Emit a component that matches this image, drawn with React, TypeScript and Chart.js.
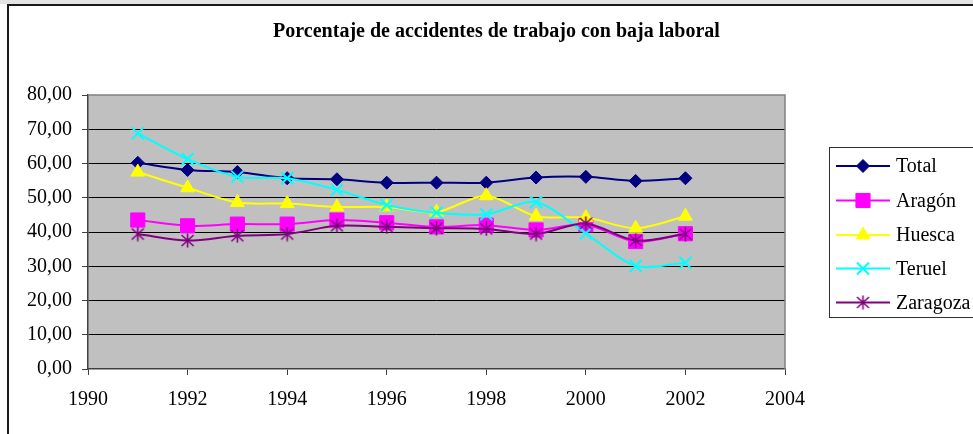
import React, { useEffect, useRef } from 'react';
import { Chart, registerables } from 'chart.js';
import { drawPoint } from 'chart.js/helpers';

Chart.register(...registerables);

const titleText = 'Porcentaje de accidentes de trabajo con baja laboral';
const years = [1991, 1992, 1993, 1994, 1995, 1996, 1997, 1998, 1999, 2000, 2001, 2002];
const total = [60.2, 58.1, 57.5, 55.7, 55.4, 54.4, 54.4, 54.4, 55.9, 56.1, 54.9, 55.7];
const aragon = [43.5, 41.8, 42.3, 42.3, 43.5, 42.7, 41.5, 42.0, 40.6, 42.1, 37.2, 39.5];
const huesca = [57.5, 52.9, 48.6, 48.3, 47.3, 47.3, 45.8, 50.6, 44.6, 44.2, 41.1, 44.6];
const teruel = [68.8, 61.3, 56.1, 55.7, 52.3, 47.9, 45.6, 45.2, 48.7, 39.6, 30.1, 31.0];
const zaragoza = [39.4, 37.5, 38.9, 39.4, 41.8, 41.5, 41.1, 40.9, 39.4, 42.5, 37.5, 39.4];
const seriesNames = ['Total', 'Aragón', 'Huesca', 'Teruel', 'Zaragoza'];
const seriesColors = ['#000080', '#FF00FF', '#FFFF00', '#00FFFF', '#800080'];
const xMin = 1990;
const xMax = 2004;
const xStep = 2;
const yMin = 0;
const yMax = 80;
const yStep = 10;

const FONT = '"Liberation Serif", "Times New Roman", serif';

function makeAsterisk(color: string): HTMLCanvasElement {
  const c = document.createElement('canvas');
  c.width = 15;
  c.height = 15;
  const g = c.getContext('2d')!;
  g.strokeStyle = color;
  g.lineWidth = 1.6;
  g.beginPath();
  g.moveTo(7.5, 0.5);
  g.lineTo(7.5, 14.5);
  g.moveTo(1.5, 2);
  g.lineTo(13.5, 13);
  g.moveTo(13.5, 2);
  g.lineTo(1.5, 13);
  g.stroke();
  return c;
}

export default function App() {
  const ref = useRef<HTMLCanvasElement | null>(null);

  useEffect(() => {
    const canvas = ref.current;
    if (!canvas) return;
    const asterisk = makeAsterisk(seriesColors[4]);
    const values = [total, aragon, huesca, teruel, zaragoza];
    const styles: any[] = ['rectRot', 'rect', 'triangle', 'crossRot', asterisk];
    const radii = [6.5, 10, 8, 8.5, 7];
    const pbw = [1, 1, 1, 2, 1];

    const datasets = seriesNames.map((name, i) => ({
      label: name,
      data: years.map((yr, k) => ({ x: yr, y: values[i][k] })),
      borderColor: seriesColors[i],
      backgroundColor: seriesColors[i],
      borderWidth: 2,
      tension: 0.3,
      pointStyle: styles[i],
      pointRadius: radii[i],
      pointBorderWidth: pbw[i],
      pointBackgroundColor: seriesColors[i],
      pointBorderColor: seriesColors[i],
      order: 5 - i,
    }));

    const decor = {
      id: 'decor',
      beforeDraw(chart: any) {
        const ctx = chart.ctx;
        const a = chart.chartArea;
        ctx.save();
        ctx.fillStyle = '#ffffff';
        ctx.fillRect(0, 0, chart.width, chart.height);
        ctx.fillStyle = '#e4e4e4';
        ctx.fillRect(0, 0, chart.width, 4);
        ctx.strokeStyle = '#1a1a1a';
        ctx.lineWidth = 2;
        ctx.beginPath();
        ctx.moveTo(8, chart.height);
        ctx.lineTo(8, 5);
        ctx.lineTo(chart.width, 5);
        ctx.stroke();
        ctx.fillStyle = '#C0C0C0';
        ctx.fillRect(a.left, a.top, a.right - a.left, a.bottom - a.top);
        // title
        ctx.fillStyle = '#000';
        ctx.font = 'bold 20px ' + FONT;
        ctx.textAlign = 'center';
        ctx.textBaseline = 'middle';
        ctx.fillText(titleText, 496.5, 32);
        ctx.restore();
      },
      beforeDatasetsDraw(chart: any) {
        const ctx = chart.ctx;
        const a = chart.chartArea;
        ctx.save();
        ctx.strokeStyle = '#808080';
        ctx.lineWidth = 1.5;
        ctx.beginPath();
        ctx.moveTo(a.left, a.top);
        ctx.lineTo(a.right, a.top);
        ctx.lineTo(a.right, a.bottom);
        ctx.stroke();
        ctx.restore();
      },
      afterDraw(chart: any) {
        const ctx = chart.ctx;
        ctx.save();
        ctx.strokeStyle = '#303030';
        ctx.lineWidth = 1;
        ctx.strokeRect(829.5, 147.5, 160, 170);
        const rowY = [166, 200.5, 235, 268.5, 302.5];
        ctx.font = '20px ' + FONT;
        ctx.textAlign = 'left';
        ctx.textBaseline = 'middle';
        seriesNames.forEach((name, i) => {
          const y = rowY[i];
          ctx.strokeStyle = seriesColors[i];
          ctx.lineWidth = 2;
          ctx.beginPath();
          ctx.moveTo(836, y);
          ctx.lineTo(890, y);
          ctx.stroke();
          ctx.fillStyle = seriesColors[i];
          ctx.strokeStyle = seriesColors[i];
          ctx.lineWidth = pbw[i];
          drawPoint(ctx, { pointStyle: styles[i], radius: radii[i], rotation: 0, borderWidth: pbw[i] } as any, 863, y);
          ctx.fillStyle = '#000';
          ctx.fillText(name, 896, y + 1);
        });
        ctx.restore();
      },
    };

    const chart = new Chart(canvas, {
      type: 'line',
      data: { datasets: datasets as any },
      options: {
        animation: false,
        responsive: false,
        devicePixelRatio: 1,
        layout: { padding: { left: 0, top: 95, right: 188, bottom: 0 } },
        plugins: {
          legend: { display: false },
          title: { display: false },
          tooltip: { enabled: false },
        },
        scales: {
          x: {
            type: 'linear',
            min: xMin,
            max: xMax,
            afterFit: (s: any) => { s.height = 65; },
            ticks: {
              stepSize: xStep,
              color: '#000',
              font: { family: FONT, size: 20 },
              padding: 13,
              maxRotation: 0,
              callback: (v: any) => String(v),
            },
            grid: { drawOnChartArea: false, tickLength: 6, tickColor: '#404040', tickWidth: 1 },
            border: { color: '#404040', width: 1.5 },
          },
          y: {
            type: 'linear',
            min: yMin,
            max: yMax,
            afterFit: (s: any) => { s.width = 88; },
            ticks: {
              stepSize: yStep,
              color: '#000',
              font: { family: FONT, size: 20 },
              padding: 10,
              callback: (v: any) => Number(v).toFixed(2).replace('.', ','),
            },
            grid: {
              color: (c: any) => (c.tick && (c.tick.value === yMin || c.tick.value === yMax) ? 'rgba(0,0,0,0)' : '#000000'),
              lineWidth: 1,
              tickLength: 6,
              tickColor: '#404040',
            },
            border: { color: '#404040', width: 1.5 },
          },
        },
      },
      plugins: [decor],
    });
    return () => chart.destroy();
  }, []);

  return (
    <div style={{ position: 'fixed', left: 0, top: 0, width: 973, height: 434 }}>
      <canvas ref={ref} width={973} height={434} style={{ width: 973, height: 434, display: 'block' }} />
    </div>
  );
}
